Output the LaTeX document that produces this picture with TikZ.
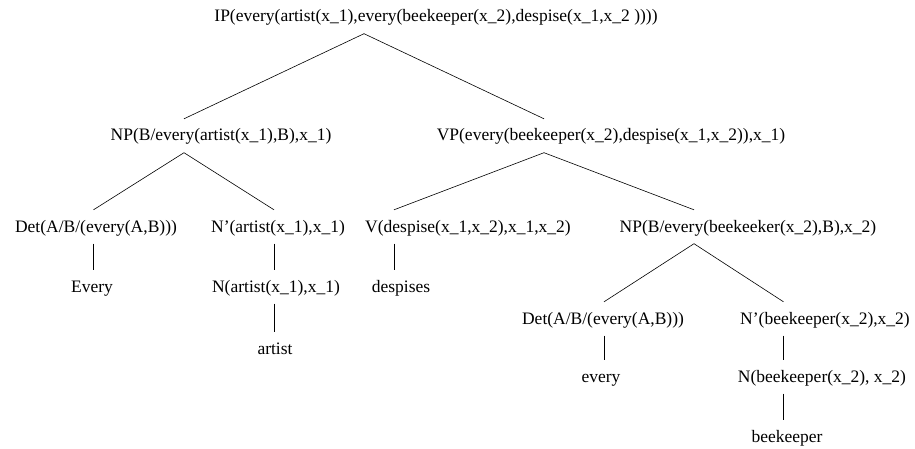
\documentclass[tikz,border=0pt]{standalone}
\usepackage{fontspec}
\setmainfont{Liberation Serif}
\tikzset{
    lbl/.style={inner xsep=0pt, inner ysep=8pt, text height=14pt, text depth=3.5pt, anchor=base,
        font=\fontsize{17.5}{20}\selectfont},
    edge/.style={line width=0.6pt},
}

\begin{document}
\begin{tikzpicture}[x={(1pt,0pt)},y={(0pt,-1pt)}]
    \useasboundingbox (0,0) rectangle (915,449);
    \node[lbl] (ip) at (436,22) {IP(every(artist(x\_1),every(beekeeper(x\_2),despise(x\_1,x\_2 ))))};
    \node[lbl] (np1) at (221,141) {NP(B/every(artist(x\_1),B),x\_1)};
    \node[lbl] (vp) at (611,141) {VP(every(beekeeper(x\_2),despise(x\_1,x\_2)),x\_1)};
    \node[lbl] (det1) at (96,232) {Det(A/B/(every(A,B)))};
    \node[lbl] (nbar1) at (278,232) {N'(artist(x\_1),x\_1)};
    \node[lbl] (v) at (468,232) {V(despise(x\_1,x\_2),x\_1,x\_2)};
    \node[lbl] (np2) at (748,232) {NP(B/every(beekeeker(x\_2),B),x\_2)};
    \node[lbl] (every1) at (92,292) {Every};
    \node[lbl] (n1) at (276,292) {N(artist(x\_1),x\_1)};
    \node[lbl] (desp) at (401,292) {despises};
    \node[lbl] (artist) at (275,354) {artist};
    \node[lbl] (det2) at (603,324) {Det(A/B/(every(A,B)))};
    \node[lbl] (nbar2) at (825,324) {N'(beekeeper(x\_2),x\_2)};
    \node[lbl] (every2) at (601,382) {every};
    \node[lbl] (n2) at (822,382) {N(beekeeper(x\_2), x\_2)};
    \node[lbl] (bee) at (787,442) {beekeeper};
    \foreach \a/\da/\b/\db in {ip/-72/np1/-37, ip/-72/vp/-67, np1/-37/det1/-2.5, np1/-37/nbar1/-4,
        vp/-67/v/-74, vp/-67/np2/-54, det1/-2.5/every1/1.5, nbar1/-4/n1/-2, n1/-2/artist/-1,
        v/-74/desp/-7, np2/-54/det2/1, np2/-54/nbar2/-41.5, det2/1/every2/3,
        nbar2/-41.5/n2/-38.5, n2/-38.5/bee/-3.5}{
        \draw[edge] ([xshift=\da pt]\a.south) -- ([xshift=\db pt]\b.north);
    }
\end{tikzpicture}
\end{document}
